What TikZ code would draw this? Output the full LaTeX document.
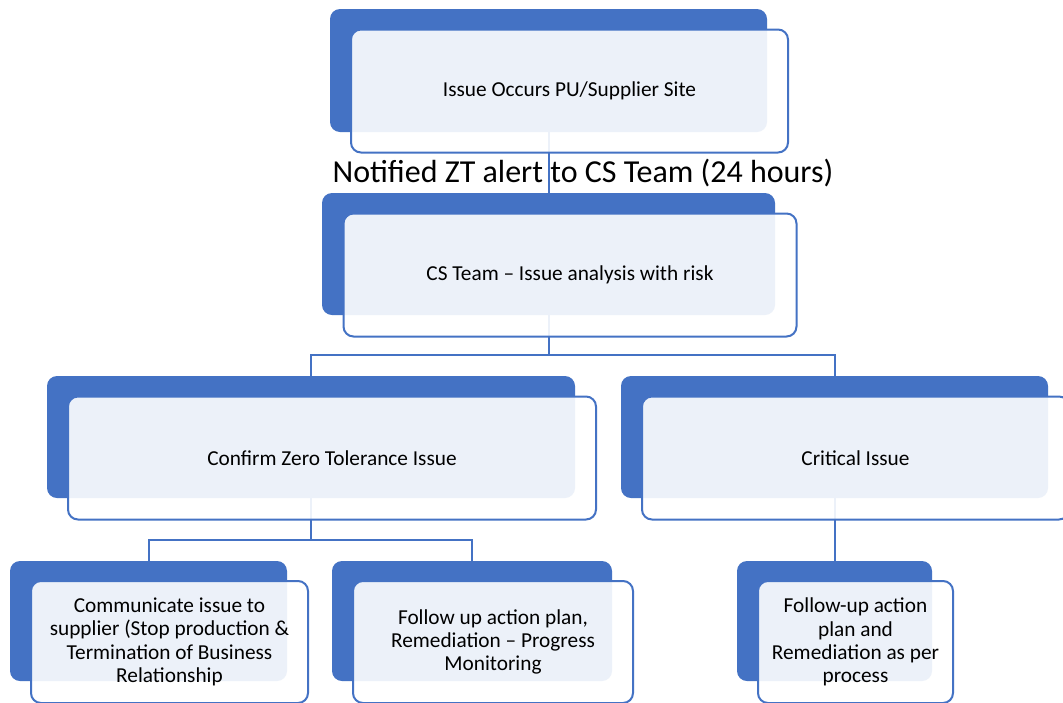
\documentclass[tikz,border=0pt]{standalone}
\usepackage{fontspec}
\setmainfont{Carlito}
\definecolor{sablue}{HTML}{4472C4}
\tikzset{
  bluebox/.style={draw=none, fill=sablue, rounded corners=10pt, inner sep=0pt},
  frontbox/.style={draw=sablue, line width=2pt, fill=white, fill opacity=0.9, text opacity=1, rounded corners=10pt, inner sep=0pt, align=center, font=\fontsize{21.3pt}{23.3pt}\selectfont, text=black},
  conn/.style={draw=sablue, line width=2pt}
}
\begin{document}
\begin{tikzpicture}[x=1pt,y=-1pt]
\useasboundingbox (0,0) rectangle (1063,702);
\clip (0,0) rectangle (1063,702);
\fill[white] (0,0) rectangle (1063,702);
% back boxes
\node[bluebox, minimum width=437pt, minimum height=123pt] (b1) at (548.5,70.5) {};
\node[bluebox, minimum width=453pt, minimum height=122pt] (b2) at (548.5,254) {};
\node[bluebox, minimum width=528pt, minimum height=122pt] (b3) at (311,437) {};
\node[bluebox, minimum width=427pt, minimum height=122pt] (b4) at (834.5,437) {};
\node[bluebox, minimum width=277pt, minimum height=120pt] (b5) at (148.5,621) {};
\node[bluebox, minimum width=280pt, minimum height=120pt] (b6) at (472,621) {};
\node[bluebox, minimum width=195pt, minimum height=120pt] (b7) at (834.5,621) {};
% title text
\node[font=\fontsize{32pt}{38pt}\selectfont, inner sep=0pt] (t) at (583,173) {Notified ZT alert to CS Team (24 hours)};
% connectors
\draw[conn] (b1.south) -- (b2.north);
\draw[conn] (b2.south) -- ++(0,40) -| (b3.north);
\draw[conn] (b2.south) -- ++(0,40) -| (b4.north);
\draw[conn] (b3.south) -- ++(0,42) -| (b5.north);
\draw[conn] (b3.south) -- ++(0,42) -| (b6.north);
\draw[conn] (b4.south) -- (b7.north);
% front boxes
\node[frontbox, minimum width=437pt, minimum height=123pt] (f1) at (569.5,91) {Issue Occurs PU/Supplier Site};
\node[frontbox, minimum width=453pt, minimum height=123pt] (f2) at (570,275) {CS Team -- Issue analysis with risk};
\node[frontbox, minimum width=528pt, minimum height=123pt] (f3) at (332,458) {Confirm Zero Tolerance Issue};
\node[frontbox, minimum width=427pt, minimum height=123pt] (f4) at (855.5,458) {Critical Issue};
\node[frontbox, minimum width=277pt, minimum height=122pt] (f5) at (169.5,642) {Communicate issue to\\supplier (Stop production \&\\Termination of Business\\Relationship};
\node[frontbox, minimum width=280pt, minimum height=122pt] (f6) at (493,642) {Follow up action plan,\\Remediation -- Progress\\Monitoring};
\node[frontbox, minimum width=195pt, minimum height=122pt] (f7) at (855.5,642) {Follow-up action\\plan and\\Remediation as per\\process};
\end{tikzpicture}
\end{document}
